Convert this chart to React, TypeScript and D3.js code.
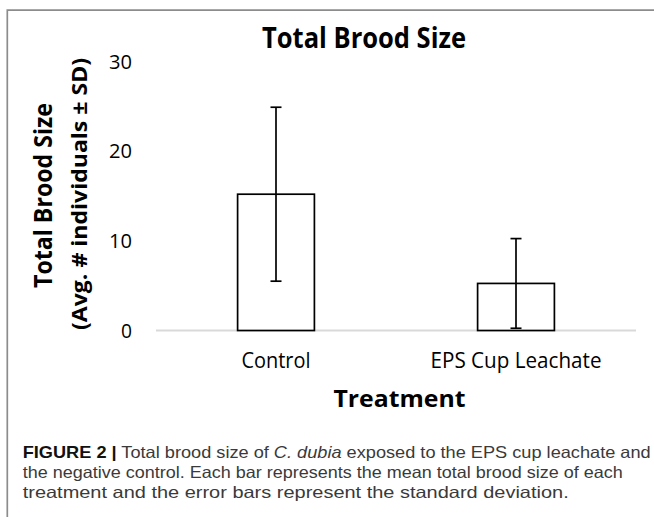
import React from "react";
import * as d3 from "d3";

const categories = ["Control", "EPS Cup Leachate"];
const means = [15.2, 5.25];
const sds = [9.7, 5.0];
const yTicks = [0, 10, 20, 30];
const titleText = "Total Brood Size";
const yLabel1 = "Total Brood Size";
const yLabel2 = "(Avg. # individuals \u00B1 SD)";
const xLabel = "Treatment";

const W = 654;
const H = 517;
const chartFont = "'Open Sans', 'DejaVu Sans', sans-serif";
const capFont = "'Liberation Sans', Arial, sans-serif";

export default function App() {
  const x = d3.scaleBand<string>().domain(categories).range([156, 636]).paddingInner(0.68).paddingOuter(0.34);
  const y = d3.scaleLinear().domain([0, 30]).range([330.5, 61.5]);
  const bw = x.bandwidth();
  const capW = 11;
  const [x0, x1] = x.range();

  return (
    <svg width={W} height={H} style={{ position: "absolute", left: 0, top: 0, background: "#fff" }}>
      <rect x={0} y={0} width={W} height={H} fill="#fff" />
      {/* frame */}
      <path d={`M7.3,${H + 5} L7.3,10.2 L${W + 5},10.2`} fill="none" stroke="#8c8c8c" strokeWidth={1.7} />

      {/* title */}
      <text x={364} y={48.3} textAnchor="middle" fontFamily={chartFont} fontWeight="bold" fontSize={28}
        textLength={204} lengthAdjust="spacingAndGlyphs" fill="#000">{titleText}</text>

      {/* y tick labels */}
      {yTicks.map((t) => (
        <text key={t} x={132} y={y(t)} dy="0.36em" textAnchor="end" fontFamily={chartFont} fontSize={20} fill="#000"
          textLength={t === 0 ? 11 : 23} lengthAdjust="spacingAndGlyphs">{t}</text>
      ))}

      {/* axis line */}
      <line x1={x0} x2={x1} y1={y(0)} y2={y(0)} stroke="#d9d9d9" strokeWidth={2} />

      {/* bars */}
      {categories.map((c, i) => (
        <rect key={c} x={x(c)!} y={y(means[i])} width={bw} height={y(0) - y(means[i])}
          fill="#fff" stroke="#000" strokeWidth={1.7} />
      ))}

      {/* error bars */}
      {categories.map((c, i) => {
        const cx = x(c)! + bw / 2;
        const top = y(means[i] + sds[i]);
        const bot = y(Math.max(0, means[i] - sds[i]));
        return (
          <g key={c} stroke="#000" strokeWidth={1.7}>
            <line x1={cx} x2={cx} y1={top} y2={bot} />
            <line x1={cx - capW / 2} x2={cx + capW / 2} y1={top} y2={top} />
            <line x1={cx - capW / 2} x2={cx + capW / 2} y1={bot} y2={bot} />
          </g>
        );
      })}

      {/* x tick labels */}
      {categories.map((c, i) => (
        <text key={c} x={x(c)! + bw / 2} y={367.7} textAnchor="middle" fontFamily={chartFont} fontSize={21}
          textLength={i === 0 ? 69 : 171} lengthAdjust="spacingAndGlyphs" fill="#000">{c}</text>
      ))}

      {/* x axis title */}
      <text x={399.5} y={406.7} textAnchor="middle" fontFamily={chartFont} fontWeight="bold" fontSize={24}
        textLength={132} lengthAdjust="spacingAndGlyphs" fill="#000">{xLabel}</text>

      {/* y axis title */}
      <text transform="translate(52,195.5) rotate(-90)" textAnchor="middle" fontFamily={chartFont} fontWeight="bold"
        fontSize={25.5} textLength={185} lengthAdjust="spacingAndGlyphs" fill="#000">{yLabel1}</text>
      <text transform="translate(87,194) rotate(-90)" textAnchor="middle" fontFamily={chartFont} fontWeight="bold"
        fontSize={22} textLength={272} lengthAdjust="spacingAndGlyphs" fill="#000">{yLabel2}</text>

      {/* caption */}
      <text x={22.7} y={458} fontFamily={capFont} fontSize={16.5} fill="#3a3a3a" textLength={628} lengthAdjust="spacingAndGlyphs">
        <tspan fontWeight="bold" fill="#111">FIGURE 2 |</tspan>
        <tspan> Total brood size of </tspan>
        <tspan fontStyle="italic">C. dubia</tspan>
        <tspan> exposed to the EPS cup leachate and</tspan>
      </text>
      <text x={22.7} y={478} fontFamily={capFont} fontSize={16.5} fill="#3a3a3a" textLength={600} lengthAdjust="spacingAndGlyphs">
        the negative control. Each bar represents the mean total brood size of each
      </text>
      <text x={22.7} y={498} fontFamily={capFont} fontSize={16.5} fill="#3a3a3a" textLength={546} lengthAdjust="spacingAndGlyphs">
        treatment and the error bars represent the standard deviation.
      </text>
    </svg>
  );
}
